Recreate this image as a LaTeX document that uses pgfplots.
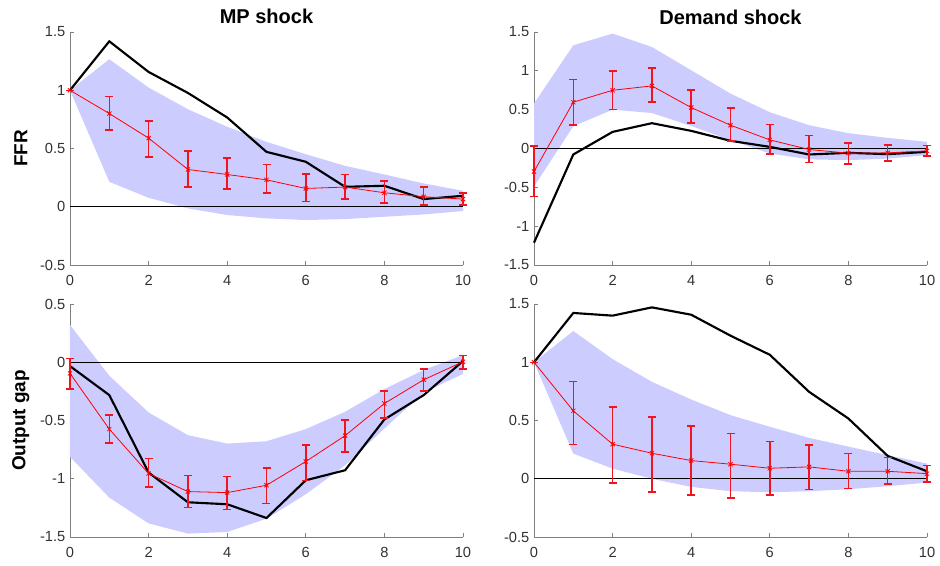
\documentclass[border=0pt]{standalone}
\usepackage{pgfplots}
\pgfplotsset{compat=1.18}
\usepackage{pgfplotstable}
\usepackage{fontspec}
\setmainfont{Liberation Sans}
\definecolor{bandc}{RGB}{204,204,255}
\definecolor{axgray}{RGB}{128,128,128}
\definecolor{txtgray}{RGB}{50,50,50}
\definecolor{ebred}{RGB}{240,20,30}

% columns: x, black line, red mean, red low, red high
\pgfplotstableread{
x blk m lo hi
0 1.0 1.0 1.0 1.0
1 1.42 0.80 0.657 0.946
2 1.157 0.589 0.429 0.737
3 0.977 0.32 0.171 0.477
4 0.766 0.277 0.151 0.42
5 0.471 0.231 0.12 0.363
6 0.386 0.157 0.043 0.28
7 0.171 0.169 0.066 0.277
8 0.18 0.12 0.031 0.223
9 0.066 0.086 0.017 0.171
10 0.094 0.066 0.017 0.12
}\tA
\pgfplotstableread{
x y
0 1.0
1 1.266
2 1.023
3 0.837
4 0.686
5 0.557
6 0.451
7 0.351
8 0.277
9 0.200
10 0.137
10 -0.037
9 -0.066
8 -0.086
7 -0.106
6 -0.114
5 -0.100
4 -0.071
3 -0.014
2 0.077
1 0.214
0 1.0
}\bA
\pgfplotstableread{
x blk m lo hi
0 -1.213 -0.296 -0.621 0.03
1 -0.077 0.596 0.3 0.891
2 0.214 0.75 0.501 0.999
3 0.326 0.806 0.596 1.037
4 0.227 0.527 0.326 0.754
5 0.099 0.3 0.094 0.519
6 0.021 0.111 -0.073 0.309
7 -0.077 -0.013 -0.18 0.167
8 -0.056 -0.06 -0.201 0.073
9 -0.073 -0.056 -0.159 0.047
10 -0.043 -0.03 -0.094 0.039
}\tB
\pgfplotstableread{
x y
0 0.579
1 1.329
2 1.479
3 1.307
4 1.007
5 0.707
6 0.467
7 0.3
8 0.197
9 0.137
10 0.086
10 -0.086
9 -0.13
8 -0.15
7 -0.14
6 -0.064
5 0.107
4 0.29
3 0.457
2 0.50
1 0.287
0 -0.49
}\bB
\pgfplotstableread{
x blk m lo hi
0 -0.033 -0.096 -0.228 0.033
1 -0.282 -0.574 -0.695 -0.454
2 -0.947 -0.955 -1.07 -0.826
3 -1.202 -1.11 -1.248 -0.97
4 -1.219 -1.119 -1.262 -0.981
5 -1.337 -1.056 -1.213 -0.907
6 -1.013 -0.852 -1.016 -0.709
7 -0.927 -0.63 -0.769 -0.494
8 -0.491 -0.354 -0.48 -0.245
9 -0.282 -0.15 -0.245 -0.056
10 0.01 0.004 -0.059 0.056
}\tC
\pgfplotstableread{
x y
0 0.32
1 -0.116
2 -0.431
3 -0.626
4 -0.698
5 -0.678
6 -0.574
7 -0.425
8 -0.23
9 -0.067
10 0.062
10 -0.1
9 -0.259
8 -0.569
7 -0.884
6 -1.133
5 -1.343
4 -1.457
3 -1.471
2 -1.383
1 -1.162
0 -0.812
}\bC
\pgfplotstableread{
x blk m lo hi
0 1 1 1 1
1 1.423 0.583 0.294 0.835
2 1.4 0.297 -0.036 0.617
3 1.471 0.219 -0.113 0.531
4 1.408 0.156 -0.139 0.451
5 1.228 0.125 -0.165 0.388
6 1.064 0.09 -0.139 0.319
7 0.746 0.102 -0.09 0.291
8 0.517 0.064 -0.085 0.219
9 0.196 0.064 -0.047 0.182
10 0.064 0.044 -0.027 0.116
}\tD
\pgfplotstableread{
x y
0 1
1 1.268
2 1.027
3 0.832
4 0.68
5 0.546
6 0.446
7 0.351
8 0.276
9 0.202
10 0.13
10 -0.033
9 -0.064
8 -0.09
7 -0.107
6 -0.116
5 -0.107
4 -0.07
3 0.0
2 0.087
1 0.216
0 1
}\bD

\pgfplotsset{
  irf/.style={
    scale only axis, width=294.75pt, height=174.75pt,
    xmin=0, xmax=10, xtick={0,2,...,10},
    enlargelimits=false, clip=false,
    axis lines*=left,
    axis line style={-, draw=axgray, line width=0.6pt},
    tick style={draw=axgray, line width=0.6pt},
    tick align=inside, major tick length=3pt,
    tick label style={font=\fontsize{11}{12}\selectfont, text=txtgray},
    xticklabel style={yshift=-4.5pt},
    /pgf/number format/assume math mode=true,
    every axis title/.style={at={(axis description cs:0.5,1)}, anchor=base, yshift=6pt, font=\bfseries\fontsize{15}{18}\selectfont},
    every axis y label/.style={at={(axis description cs:-0.125,0.5)}, rotate=90, anchor=center, font=\bfseries\fontsize{14.2}{17}\selectfont},
  },
}

\newcommand{\panel}[2]{%
  \addplot[fill=bandc, draw=none, forget plot] table[x=x, y=y] {#2} -- cycle;
  \addplot[black, line width=0.5pt, forget plot] coordinates {(0,0) (10,0)};
  \addplot[black, line width=1.6pt, forget plot] table[x=x, y=blk] {#1};
  \addplot[draw=none, forget plot,
    error bars/.cd, y dir=both, y explicit,
    error bar style={draw=ebred, color=ebred, line width=1.15pt},
    error mark options={rotate=90, mark size=3pt, line width=1.1pt, draw=ebred, color=ebred}]
    table[x=x, y=m, y error plus expr=\thisrow{hi}-\thisrow{m}, y error minus expr=\thisrow{m}-\thisrow{lo}] {#1};
  \addplot[red, line width=0.6pt, mark=x, mark size=2.2pt, mark options={line width=0.6pt}, forget plot]
    table[x=x, y=m] {#1};
}

\begin{document}
\begin{tikzpicture}
\useasboundingbox (0,0) rectangle (705pt,423.75pt);

\begin{axis}[irf, at={(52.5pt,225pt)}, anchor=south west,
  ymin=-0.5, ymax=1.5, ytick={-0.5,0,0.5,1,1.5},
  title={MP shock}, ylabel={FFR}]
\panel{\tA}{\bA}
\end{axis}

\begin{axis}[irf, at={(400.5pt,225pt)}, anchor=south west,
  ymin=-1.5, ymax=1.5, ytick={-1.5,-1,-0.5,0,0.5,1,1.5},
  title={Demand shock}]
\panel{\tB}{\bB}
\end{axis}

\begin{axis}[irf, at={(52.5pt,21pt)}, anchor=south west,
  ymin=-1.5, ymax=0.5, ytick={-1.5,-1,-0.5,0,0.5},
  ylabel={Output gap}]
\panel{\tC}{\bC}
\end{axis}

\begin{axis}[irf, at={(400.5pt,21pt)}, anchor=south west,
  ymin=-0.5, ymax=1.5, ytick={-0.5,0,0.5,1,1.5}]
\panel{\tD}{\bD}
\end{axis}
\end{tikzpicture}
\end{document}
